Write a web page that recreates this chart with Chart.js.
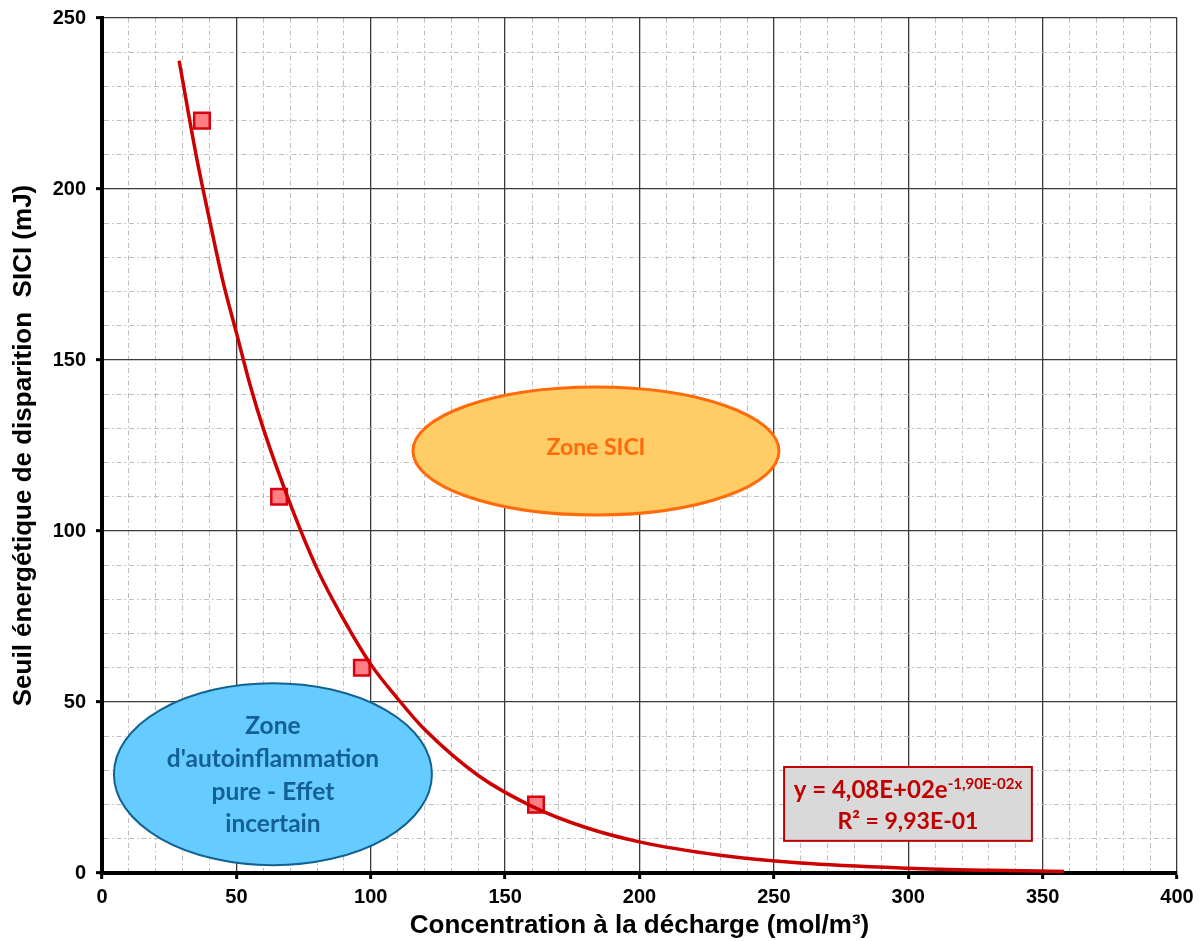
<!DOCTYPE html>
<html>

<head>
    <meta charset="utf-8">
    <script src="https://cdn.jsdelivr.net/npm/chart.js"></script>
    <style>
        body { margin: 0; background: #fff; }
        #wrapper { width: 1203px; height: 941px; position: relative; }
    </style>
</head>

<body>
    <div id="wrapper">
        <canvas id="seuil"></canvas>
    </div>
</body>

</html>

<script>
    // measured points
    var concData = [37.2, 65.9, 96.7, 161.5];
    var seuilData = [220, 110, 60, 20];

    // exponential trend line
    var trendX = [28.7, 35, 40, 45, 50, 55, 60, 70, 80, 90, 100, 110, 120, 140, 160, 180, 200, 230, 260, 300, 330, 358];
    var trendY = [237.5, 210, 191, 173, 158, 143, 130, 108, 89, 74, 61, 51, 42, 28.5, 19.5, 13.3, 9.1, 5.2, 2.9, 1.4, 0.8, 0.45];

    var xTitle = 'Concentration à la décharge (mol/m³)';
    var yTitle = 'Seuil énergétique de disparition  SICI (mJ)';

    function toXY(xs, ys) {
        return xs.map(function (x, i) {
            return { x: x, y: ys[i] };
        });
    }

    function isMajor(ctx) {
        return ctx.tick && ctx.tick.value % 50 === 0;
    }

    var tickFont = { family: "'Liberation Sans', Arial, sans-serif", size: 20, weight: 'bold' };
    var titleFont = { family: "'Liberation Sans', Arial, sans-serif", size: 26, weight: 'bold' };
    var LATO = "Lato, 'Open Sans', sans-serif";

    function ellipse(ctx, cx, cy, rx, ry, fill, stroke, lw) {
        ctx.beginPath();
        ctx.ellipse(cx, cy, rx, ry, 0, 0, Math.PI * 2);
        ctx.fillStyle = fill;
        ctx.fill();
        ctx.lineWidth = lw;
        ctx.strokeStyle = stroke;
        ctx.stroke();
    }

    var zonesPlugin = {
        id: 'zones',
        beforeDatasetsDraw: function (chart) {
            var ctx = chart.ctx;
            var xs = chart.scales.x, ys = chart.scales.y;
            ctx.save();
            ctx.textAlign = 'center';
            ctx.textBaseline = 'alphabetic';

            // Zone SICI
            var cx = xs.getPixelForValue(183.8), cy = ys.getPixelForValue(123.4);
            ellipse(ctx, cx, cy, 183, 64, '#FFCC66', '#FF6A0A', 3);
            ctx.fillStyle = '#FF6A0A';
            ctx.font = 'bold 23px ' + LATO;
            ctx.fillText('Zone SICI', cx, cy + 4);

            // Zone d'autoinflammation
            cx = xs.getPixelForValue(63.6);
            cy = ys.getPixelForValue(28.9);
            ellipse(ctx, cx, cy, 159, 91, '#66CCFF', '#12628F', 2);
            ctx.fillStyle = '#145F94';
            ctx.font = 'bold 24.5px ' + LATO;
            var lines = ['Zone', "d'autoinflammation", 'pure - Effet', 'incertain'];
            lines.forEach(function (t, i) {
                ctx.fillText(t, cx, cy - 40 + i * 32.7);
            });

            // trend equation box
            var x0 = xs.getPixelForValue(253.8), x1 = xs.getPixelForValue(346);
            var y0 = ys.getPixelForValue(31), y1 = ys.getPixelForValue(9.4);
            ctx.fillStyle = '#D9D9D9';
            ctx.fillRect(x0, y0, x1 - x0, y1 - y0);
            ctx.lineWidth = 2;
            ctx.strokeStyle = '#C00000';
            ctx.strokeRect(x0, y0, x1 - x0, y1 - y0);

            var mid = (x0 + x1) / 2;
            ctx.fillStyle = '#C00000';
            var main = 'y = 4,08E+02e', sup = '-1,90E-02x';
            ctx.font = 'bold 24px ' + LATO;
            var wMain = ctx.measureText(main).width;
            ctx.font = 'bold 15px ' + LATO;
            var wSup = ctx.measureText(sup).width;
            var start = mid - (wMain + wSup) / 2;
            ctx.textAlign = 'left';
            ctx.font = 'bold 24px ' + LATO;
            ctx.fillText(main, start, y0 + 31);
            ctx.font = 'bold 15px ' + LATO;
            ctx.fillText(sup, start + wMain, y0 + 22);
            ctx.textAlign = 'center';
            ctx.font = 'bold 23px ' + LATO;
            ctx.fillText('R² = 9,93E-01', mid, y0 + 62);
            ctx.restore();
        }
    };

    function axisOptions(min, max, title) {
        return {
            type: 'linear',
            min: min,
            max: max,
            ticks: {
                stepSize: 10,
                autoSkip: false,
                maxRotation: 0,
                minRotation: 0,
                color: '#000',
                font: tickFont,
                padding: 6,
                callback: function (v) {
                    return v % 50 === 0 ? v : '';
                }
            },
            grid: {
                color: function (ctx) {
                    return isMajor(ctx) ? '#3a3a3a' : '#bdbdbd';
                },
                lineWidth: function (ctx) {
                    return isMajor(ctx) ? 1.3 : 1;
                },
                tickColor: function (ctx) {
                    return isMajor(ctx) ? '#000' : 'rgba(0,0,0,0)';
                },
                tickWidth: 3,
                tickLength: 6
            },
            border: {
                display: true,
                color: '#000',
                width: 4,
                dash: function (ctx) {
                    return ctx.tick && ctx.tick.value % 50 !== 0 ? [5, 3, 1.5, 3] : [];
                }
            },
            title: {
                display: true,
                text: title,
                color: '#000',
                font: titleFont,
                padding: 0
            }
        };
    }

    var xAxis = axisOptions(0, 400, xTitle);
    xAxis.afterFit = function (scale) { scale.height = 68; };
    var yAxis = axisOptions(0, 250, yTitle);
    yAxis.ticks.padding = 10;
    yAxis.title.padding = { top: 0, bottom: 0 };
    yAxis.afterFit = function (scale) {
        scale.width = 94;
        scale.paddingTop = 0;
        scale.paddingBottom = 0;
    };

    var chart = new Chart('seuil', {
        type: 'scatter',
        data: {
            datasets: [
                {
                    data: toXY(trendX, trendY),
                    showLine: true,
                    borderColor: '#CC0000',
                    borderWidth: 3.5,
                    pointRadius: 0,
                    pointHoverRadius: 0,
                    cubicInterpolationMode: 'monotone',
                    fill: false
                },
                {
                    data: toXY(concData, seuilData),
                    pointStyle: 'rect',
                    pointRadius: 11,
                    pointBackgroundColor: '#FF7F84',
                    pointBorderColor: '#D90010',
                    pointBorderWidth: 2.5
                }
            ]
        },
        options: {
            responsive: true,
            maintainAspectRatio: false,
            animation: false,
            layout: {
                padding: { left: 8, right: 26, top: 18, bottom: 0 }
            },
            plugins: {
                legend: { display: false },
                tooltip: { enabled: false }
            },
            scales: {
                x: xAxis,
                y: yAxis
            }
        },
        plugins: [zonesPlugin]
    });
</script>
